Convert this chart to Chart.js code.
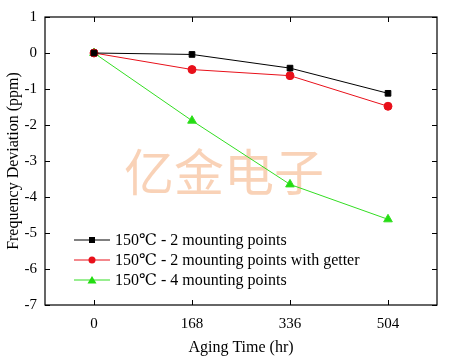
<!DOCTYPE html>
<html>
<head>
<meta charset="utf-8">
<script src="https://cdn.jsdelivr.net/npm/chart.js@4"></script>
<style>
  html, body { margin: 0; padding: 0; background: #fff; }
  #wrap { width: 450px; height: 361px; }
</style>
</head>
<body>
<div id="wrap"><canvas id="agingChart" width="450" height="361"></canvas></div>
<script>
var agingHours = [0, 168, 336, 504];
var twoPoints = [0, -0.04, -0.42, -1.12];
var twoPointsGetter = [0, -0.46, -0.63, -1.48];
var fourPoints = [0, -1.88, -3.65, -4.62];
var seriesNames = [
    '150\u2103 - 2 mounting points',
    '150\u2103 - 2 mounting points with getter',
    '150\u2103 - 4 mounting points'
];
var xTicks = [0, 168, 336, 504];
var yTicks = [1, 0, -1, -2, -3, -4, -5, -6, -7];

var serif = "'Liberation Serif', 'DejaVu Serif', serif";

function toPoints(values) {
    return values.map(function (v, i) { return { x: agingHours[i], y: v }; });
}

// inward tick marks, frame, in-plot legend and watermark
var decorations = {
    id: 'decorations',
    beforeDatasetsDraw: function (chart) {
        var ctx = chart.ctx;
        ctx.save();
        ctx.font = "50px 'Noto Sans CJK SC', sans-serif";
        ctx.fillStyle = 'rgba(245, 180, 135, 0.6)';
        ctx.textAlign = 'center';
        ctx.textBaseline = 'middle';
        ctx.fillText('\u4ebf\u91d1\u7535\u5b50', 224, 172);
        ctx.restore();
    },
    afterDraw: function (chart) {
        var ctx = chart.ctx, a = chart.chartArea;
        var xs = chart.scales.x, ys = chart.scales.y;
        ctx.save();
        ctx.strokeStyle = '#000';
        ctx.lineWidth = 1.2;
        ctx.strokeRect(a.left, a.top, a.right - a.left, a.bottom - a.top);
        ctx.lineWidth = 1;
        xTicks.forEach(function (t) {
            var px = Math.round(xs.getPixelForValue(t)) + 0.5;
            ctx.beginPath();
            ctx.moveTo(px, a.bottom); ctx.lineTo(px, a.bottom - 5);
            ctx.moveTo(px, a.top); ctx.lineTo(px, a.top + 5);
            ctx.stroke();
        });
        yTicks.forEach(function (t) {
            var py = Math.round(ys.getPixelForValue(t)) + 0.5;
            ctx.beginPath();
            ctx.moveTo(a.left, py); ctx.lineTo(a.left + 5, py);
            ctx.moveTo(a.right, py); ctx.lineTo(a.right - 5, py);
            ctx.stroke();
        });

        // legend
        ctx.font = '16px ' + serif;
        ctx.textBaseline = 'middle';
        ctx.fillStyle = '#000';
        chart.data.datasets.forEach(function (ds, i) {
            var y = 240 + i * 20;
            ctx.strokeStyle = ds.borderColor;
            ctx.lineWidth = 1;
            ctx.beginPath();
            ctx.moveTo(74, y); ctx.lineTo(110, y);
            ctx.stroke();
            ctx.fillStyle = ds.backgroundColor;
            var cx = 92;
            ctx.beginPath();
            if (ds.pointStyle === 'rect') {
                ctx.rect(cx - 3, y - 3, 6, 6);
            } else if (ds.pointStyle === 'circle') {
                ctx.arc(cx, y, 3.5, 0, Math.PI * 2);
            } else {
                ctx.moveTo(cx, y - 4); ctx.lineTo(cx + 4.5, y + 3.5); ctx.lineTo(cx - 4.5, y + 3.5);
                ctx.closePath();
            }
            ctx.fill();
            ctx.fillStyle = '#000';
            ctx.fillText(seriesNames[i], 115, y + 1);
        });
        ctx.restore();
    }
};

new Chart(document.getElementById('agingChart').getContext('2d'), {
    type: 'line',
    data: {
        datasets: [{
            label: seriesNames[0],
            data: toPoints(twoPoints),
            borderColor: '#000000',
            backgroundColor: '#000000',
            pointStyle: 'rect',
            pointRadius: 4,
            borderWidth: 1
        }, {
            label: seriesNames[1],
            data: toPoints(twoPointsGetter),
            borderColor: '#e8101a',
            backgroundColor: '#e8101a',
            pointStyle: 'circle',
            pointRadius: 4,
            borderWidth: 1
        }, {
            label: seriesNames[2],
            data: toPoints(fourPoints),
            borderColor: '#33dd22',
            backgroundColor: '#22dd11',
            pointStyle: 'triangle',
            pointRadius: 5,
            borderWidth: 1
        }]
    },
    options: {
        responsive: false,
        animation: false,
        layout: { padding: { top: 4, right: 13, left: 0, bottom: 0 } },
        plugins: { legend: { display: false }, tooltip: { enabled: false } },
        elements: { line: { tension: 0 }, point: { borderWidth: 0 } },
        scales: {
            x: {
                type: 'linear',
                min: -84,
                max: 588,
                afterBuildTicks: function (s) { s.ticks = xTicks.map(function (v) { return { value: v }; }); },
                afterFit: function (s) { s.height = 56; },
                grid: { display: false, drawTicks: false },
                border: { display: false },
                ticks: { color: '#000', font: { family: serif, size: 15 }, padding: 10 },
                title: { display: true, text: 'Aging Time (hr)', color: '#000', font: { family: serif, size: 16 }, padding: { top: 8 } }
            },
            y: {
                min: -7,
                max: 1,
                afterBuildTicks: function (s) { s.ticks = yTicks.map(function (v) { return { value: v }; }); },
                afterFit: function (s) { s.width = 45; },
                grid: { display: false, drawTicks: false },
                border: { display: false },
                ticks: { color: '#000', font: { family: serif, size: 15 }, padding: 8 },
                title: { display: true, text: 'Frequency Deviation (ppm)', color: '#000', font: { family: serif, size: 16 }, padding: { bottom: 4 } }
            }
        }
    },
    plugins: [decorations]
});
</script>
</body>
</html>
